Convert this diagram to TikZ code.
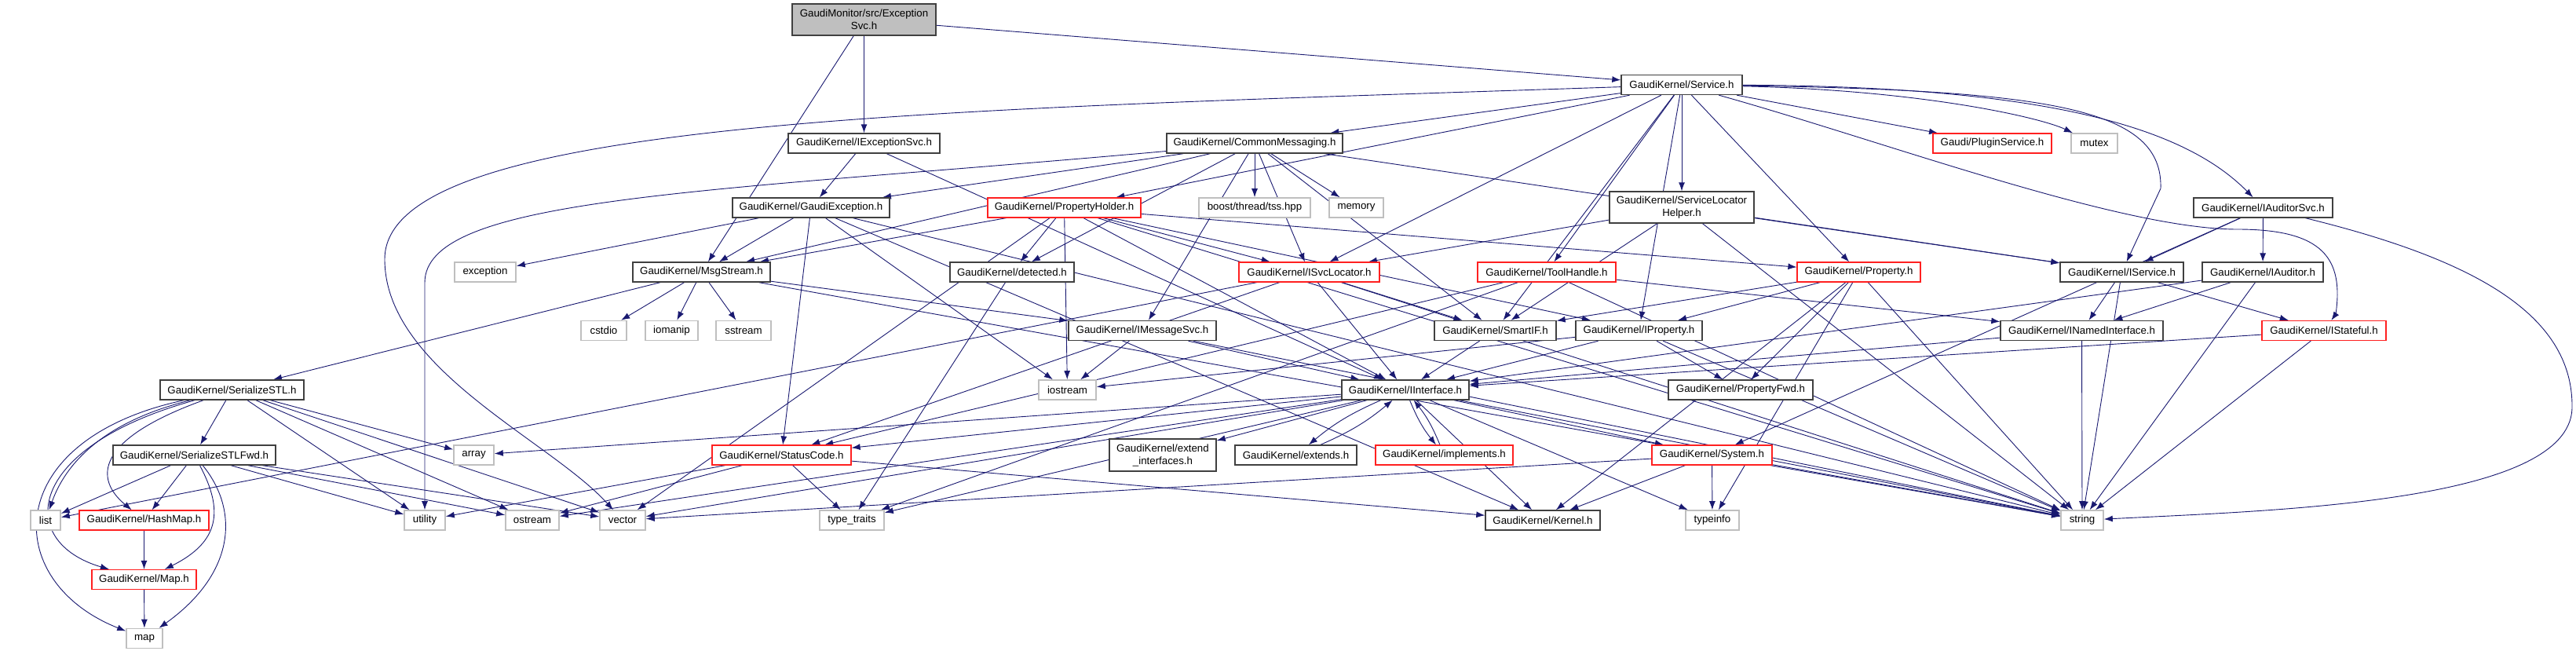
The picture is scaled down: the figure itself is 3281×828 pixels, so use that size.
\documentclass[tikz,border=0pt]{standalone}
\usepackage{fontspec}
\setmainfont{Liberation Sans}
\usetikzlibrary{arrows.meta}
\tikzset{>=latex}
\definecolor{edgecol}{HTML}{191970}
\definecolor{boxgray}{HTML}{BFBFBF}
\definecolor{boxdark}{HTML}{404040}
\definecolor{boxred}{HTML}{FF2020}
\pgfdeclarelayer{edges}
\pgfsetlayers{edges,main}
\tikzset{
  file/.style={draw=boxdark,line width=1.4,fill=white,inner sep=0,
               minimum width=#1,minimum height=25,align=center,
               font=\fontsize{13.3}{16}\selectfont},
  trunc/.style={file=#1,draw=boxred,line width=1.2},
  sys/.style={file=#1,draw=boxgray,line width=1.6},
  inc/.style={-{Latex[length=11,width=8]},edgecol,line width=0.9}}

\begin{document}
\begin{tikzpicture}[x=1pt,y=-1pt]
  \useasboundingbox (0,0) rectangle (3281,828);

  % TOP
  \node[file=183,minimum height=40,fill=boxgray] (top) at (1100.5,25) {GaudiMonitor/src/Exception\\Svc.h};
  \node[file=154] (service) at (2142,108) {GaudiKernel/Service.h};

  % RANK 2-3
  \node[file=193] (iexcsvc) at (1100.5,182.5) {GaudiKernel/IExceptionSvc.h};
  \node[file=224] (commsg) at (1598,182.5) {GaudiKernel/CommonMessaging.h};
  \node[trunc=151] (pluginsvc) at (2537.5,182.5) {Gaudi/PluginService.h};
  \node[sys=59] (mutex) at (2667.5,182.5) {mutex};
  \node[file=200] (gaudiexc) at (1033,264.5) {GaudiKernel/GaudiException.h};
  \node[trunc=195] (propholder) at (1355.5,264.5) {GaudiKernel/PropertyHolder.h};
  \node[sys=142] (tss) at (1598,264.5) {boost/thread/tss.hpp};
  \node[sys=69] (memory) at (1727.5,264.5) {memory};
  \node[file=184,minimum height=40] (svclochelper) at (2142,264) {GaudiKernel/ServiceLocator\\Helper.h};
  \node[file=177] (iauditorsvc) at (2882.5,264.5) {GaudiKernel/IAuditorSvc.h};

  % RANK 4-5
  \node[sys=78] (exception) at (618,346.5) {exception};
  \node[file=175] (msgstream) at (893.5,346.5) {GaudiKernel/MsgStream.h};
  \node[file=158] (detected) at (1289,346.5) {GaudiKernel/detected.h};
  \node[trunc=179] (isvcloc) at (1667.5,346.5) {GaudiKernel/ISvcLocator.h};
  \node[trunc=176] (toolhandle) at (1970,346.5) {GaudiKernel/ToolHandle.h};
  \node[trunc=157] (property) at (2367.5,346.5) {GaudiKernel/Property.h};
  \node[file=157] (iservice) at (2702.5,346.5) {GaudiKernel/IService.h};
  \node[file=154] (iauditor) at (2882,346.5) {GaudiKernel/IAuditor.h};
  \node[sys=58] (cstdio) at (769,421) {cstdio};
  \node[sys=67] (iomanip) at (855.5,421) {iomanip};
  \node[sys=70] (sstream) at (947,421) {sstream};
  \node[file=188] (imsgsvc) at (1455,421) {GaudiKernel/IMessageSvc.h};
  \node[file=155] (smartif) at (1904.5,421) {GaudiKernel/SmartIF.h};
  \node[file=161] (iproperty) at (2087.5,421) {GaudiKernel/IProperty.h};
  \node[file=207] (inamed) at (2651.5,421) {GaudiKernel/INamedInterface.h};
  \node[trunc=158] (istateful) at (2960,421) {GaudiKernel/IStateful.h};

  % RANK 6-7
  \node[file=183] (serstl) at (295.5,496.5) {GaudiKernel/SerializeSTL.h};
  \node[sys=73] (iostream) at (1359.5,496.5) {iostream};
  \node[file=162] (iinterface) at (1790,496.5) {GaudiKernel/IInterface.h};
  \node[file=184] (propfwd) at (2217,496.5) {GaudiKernel/PropertyFwd.h};
  \node[file=207] (serstlfwd) at (247.5,579.5) {GaudiKernel/SerializeSTLFwd.h};
  \node[sys=51] (array) at (603.5,579.5) {array};
  \node[trunc=177] (statuscode) at (995.5,579.5) {GaudiKernel/StatusCode.h};
  \node[file=136,minimum height=41] (extendif) at (1481,579.5) {GaudiKernel/extend\\\_interfaces.h};
  \node[file=155] (extends) at (1650.5,579.5) {GaudiKernel/extends.h};
  \node[trunc=175] (implements) at (1839.5,579.5) {GaudiKernel/implements.h};
  \node[trunc=153] (system) at (2180.5,579.5) {GaudiKernel/System.h};

  % BOTTOM
  \node[sys=38] (list) at (58,662.5) {list};
  \node[trunc=165] (hashmap) at (183.5,662.5) {GaudiKernel/HashMap.h};
  \node[sys=52] (utility) at (541,662.5) {utility};
  \node[sys=68] (ostream) at (678,662.5) {ostream};
  \node[sys=58] (vector) at (793,662.5) {vector};
  \node[sys=82] (typetraits) at (1085,662.5) {type\_traits};
  \node[file=146] (kernel) at (1965,662.5) {GaudiKernel/Kernel.h};
  \node[sys=68] (typeinfo) at (2181,662.5) {typeinfo};
  \node[sys=54] (string) at (2652,662.5) {string};
  \node[trunc=133] (maph) at (183.5,738) {GaudiKernel/Map.h};
  \node[sys=46] (map) at (184,813) {map};

  \begin{pgfonlayer}{edges}
  % INCLUDES
  \foreach \s/\t in {top/service,top/iexcsvc,top/msgstream,
      service/commsg,service/propholder,service/isvcloc,service/toolhandle,service/smartif,
      service/svclochelper,service/iproperty,service/property,service/pluginsvc,
      iexcsvc/gaudiexc,iexcsvc/iinterface,
      commsg/msgstream,commsg/gaudiexc,commsg/detected,commsg/tss,commsg/memory,
      commsg/isvcloc,commsg/imsgsvc,commsg/smartif,commsg/iservice,
      gaudiexc/exception,gaudiexc/msgstream,gaudiexc/statuscode,gaudiexc/kernel,
      gaudiexc/iostream,gaudiexc/string,
      propholder/detected,propholder/msgstream,propholder/isvcloc,propholder/iproperty,
      propholder/property,propholder/iinterface,propholder/iostream,propholder/string,
      propholder/vector,
      svclochelper/isvcloc,svclochelper/smartif,svclochelper/iservice,svclochelper/string,
      iauditorsvc/iservice,iauditorsvc/iauditor,iauditorsvc/system,
      msgstream/imsgsvc,msgstream/serstl,msgstream/cstdio,msgstream/iomanip,
      msgstream/sstream,msgstream/string,
      detected/typetraits,
      isvcloc/list,isvcloc/iinterface,isvcloc/smartif,isvcloc/statuscode,isvcloc/string,
      toolhandle/statuscode,toolhandle/typetraits,toolhandle/inamed,toolhandle/string,
      property/smartif,property/iproperty,property/propfwd,property/kernel,
      property/typeinfo,property/string,
      iservice/inamed,iservice/istateful,iservice/string,
      iauditor/inamed,iauditor/iinterface,iauditor/string,
      imsgsvc/iostream,imsgsvc/iinterface,imsgsvc/string,
      smartif/iinterface,
      iproperty/iinterface,iproperty/propfwd,iproperty/string,iproperty/iostream,
      inamed/iinterface,inamed/string,istateful/iinterface,istateful/string,
      serstl/serstlfwd,serstl/array,serstl/utility,serstl/ostream,serstl/vector,
      iinterface/extendif,iinterface/statuscode,iinterface/system,iinterface/kernel,
      iinterface/typeinfo,iinterface/typetraits,iinterface/ostream,iinterface/string,
      iinterface/array,iinterface/vector,
      statuscode/utility,statuscode/ostream,statuscode/typetraits,statuscode/kernel,
      system/kernel,system/typeinfo,system/string,system/vector,
      serstlfwd/list,serstlfwd/hashmap,serstlfwd/utility,serstlfwd/ostream,
      serstlfwd/vector,hashmap/maph,maph/map}
    \draw[inc] (\s) -- (\t);

  % LONG WAYS ROUND
  \draw[inc] (service) .. controls (2450,115) and (2600,150) .. (mutex);
  \draw[inc] (service) .. controls (2600,110) and (2780,160) .. (iauditorsvc);
  \draw[inc] (service) .. controls (2620,115) and (2755,140) .. (2752,240) -- (iservice);
  \draw[inc] (service) .. controls (2400,180) and (2700,292) .. (2850,292)
             .. controls (2960,292) and (2985,330) .. (2975,400) -- (istateful);
  \draw[inc] (service) .. controls (1200,140) and (490,150) .. (490,330)
             .. controls (490,470) and (700,560) .. (vector);
  \draw[inc] (commsg) .. controls (900,245) and (541,250) .. (541,360) -- (utility);
  \draw[inc] (iauditorsvc) .. controls (3150,330) and (3278,400) .. (3276,520)
             .. controls (3272,640) and (2900,650) .. (string);
  \draw[inc] (serstl) .. controls (120,540) and (80,600) .. (list);
  \draw[inc] (serstl) .. controls (120,560) and (120,610) .. (hashmap);
  \draw[inc] (serstl) .. controls (30,570) and (20,690) .. (maph);
  \draw[inc] (serstl) .. controls (0,560) and (0,740) .. (map);
  \draw[inc] (serstlfwd) .. controls (285,650) and (280,690) .. (maph);
  \draw[inc] (serstlfwd) .. controls (305,650) and (300,730) .. (map);
  \draw[inc] (iinterface) to[bend right=8] (extends);
  \draw[inc] (extends) to[bend right=8] (iinterface);
  \draw[inc] (iinterface) to[bend right=8] (implements);
  \draw[inc] (implements) to[bend right=8] (iinterface);
  \end{pgfonlayer}

\end{tikzpicture}
\end{document}
